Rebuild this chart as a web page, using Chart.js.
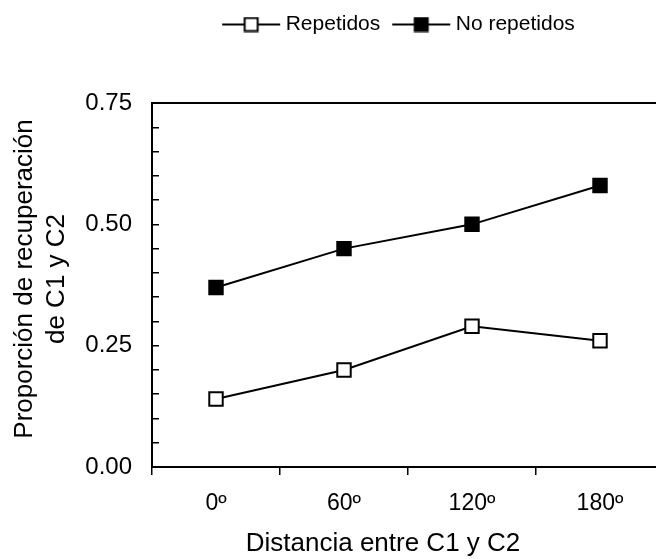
<!DOCTYPE html>
<html lang="es">
<head>
<meta charset="UTF-8">
<title>Proporción de recuperación de C1 y C2</title>
<script src="https://cdn.jsdelivr.net/npm/chart.js@4.4.0/dist/chart.umd.min.js"></script>
<style>
    html, body { margin: 0; padding: 0; background: #fff; overflow: hidden; }
    #wrap { width: 680px; height: 559px; }
</style>
</head>
<body>
<div id="wrap"><canvas id="chart" width="680" height="559"></canvas></div>
<script>
// data
const categories = ['0º', '60º', '120º', '180º'];
const repetidos = [0.14, 0.20, 0.29, 0.26];
const noRepetidos = [0.37, 0.45, 0.50, 0.58];
const yTicks = [0, 0.25, 0.50, 0.75];

const FONT = 'Arial, "Liberation Sans", sans-serif';

// legend symbol: line with a square in the middle (transparent strip on the left for spacing)
function legendSymbol(fill) {
    const c = document.createElement('canvas');
    c.width = 70; c.height = 16;
    const g = c.getContext('2d');
    g.strokeStyle = '#000';
    g.lineWidth = 2;
    g.beginPath(); g.moveTo(11, 8); g.lineTo(69, 8); g.stroke();
    g.fillStyle = fill;
    g.fillRect(33.5, 1.5, 13, 13);
    g.strokeRect(33.5, 1.5, 13, 13);
    return c;
}
const symbols = [legendSymbol('#fff'), legendSymbol('#000')];

function isMajor(v) {
    return yTicks.some(t => Math.abs(t - v) < 1e-6);
}

// shift where a scale draws its title (the figure's titles aren't centred on the axes)
function nudgeTitle(scale, dLeft, dTop) {
    if (scale._nudged) return;
    scale._nudged = true;
    const draw = scale.drawTitle;
    scale.drawTitle = function () {
        const l = this.left, t = this.top;
        this.left += dLeft;
        this.top += dTop;
        draw.call(this);
        this.left = l;
        this.top = t;
    };
}

const layoutFix = {
    id: 'layoutFix',
    afterLayout(chart) {
        // legend position
        const lg = chart.legend;
        const d = 396 - (lg.left + lg.right) / 2;
        lg.left += d;
        lg.right += d;
        nudgeTitle(chart.scales.x, -50, 0);
        nudgeTitle(chart.scales.y, 0, -12);
    }
};

new Chart(document.getElementById('chart'), {
    type: 'line',
    data: {
        labels: categories,
        datasets: [
            {
                label: 'Repetidos',
                data: repetidos,
                borderColor: '#000',
                borderWidth: 2,
                pointStyle: 'rect',
                pointRadius: 9.5,
                pointBackgroundColor: '#fff',
                pointBorderColor: '#000',
                pointBorderWidth: 2
            },
            {
                label: 'No repetidos',
                data: noRepetidos,
                borderColor: '#000',
                borderWidth: 2,
                pointStyle: 'rect',
                pointRadius: 9.5,
                pointBackgroundColor: '#000',
                pointBorderColor: '#000',
                pointBorderWidth: 2
            }
        ]
    },
    options: {
        responsive: false,
        animation: false,
        events: [],
        layout: { padding: { top: 7, right: 16, bottom: 0, left: 0 } },
        plugins: {
            tooltip: { enabled: false },
            legend: {
                position: 'top',
                labels: {
                    usePointStyle: true,
                    pointStyleWidth: 58,
                    boxHeight: 21,
                    padding: 7,
                    color: '#000',
                    font: { family: FONT, size: 21 },
                    generateLabels(chart) {
                        const items = Chart.defaults.plugins.legend.labels.generateLabels(chart);
                        items.forEach((it, i) => { it.pointStyle = symbols[i]; });
                        return items;
                    }
                }
            }
        },
        scales: {
            x: {
                offset: true,
                grid: { offset: true, drawOnChartArea: false, tickLength: 8, color: '#000', lineWidth: 1.5 },
                border: { color: '#000', width: 2 },
                ticks: { color: '#000', font: { family: FONT, size: 23 }, padding: 15, maxRotation: 0 },
                title: {
                    display: true,
                    text: 'Distancia entre C1 y C2',
                    color: '#000',
                    font: { family: FONT, size: 26 },
                    padding: { top: 0, bottom: 0 }
                },
                afterFit(s) { s.height = 92; }
            },
            x2: {
                type: 'category',
                position: 'top',
                offset: true,
                grid: { display: false },
                ticks: { display: false },
                border: { display: true, color: '#000', width: 2 },
                afterFit(s) { s.height = 58; }
            },
            y: {
                min: yTicks[0],
                max: yTicks[yTicks.length - 1],
                grid: { drawOnChartArea: false, tickLength: -7, color: '#000', lineWidth: 1.5 },
                border: { color: '#000', width: 2 },
                ticks: {
                    stepSize: 0.05,
                    autoSkip: false,
                    padding: 27,
                    color: '#000',
                    font: { family: FONT, size: 24 },
                    callback: v => isMajor(v) ? v.toFixed(2) : ''
                },
                title: {
                    display: true,
                    text: ['Proporción de recuperación', 'de C1 y C2'],
                    color: '#000',
                    font: { family: FONT, size: 26, lineHeight: 1.22 },
                    padding: { top: 9, bottom: 0 }
                },
                afterFit(s) { s.width = 152; }
            }
        }
    },
    plugins: [layoutFix]
});
</script>
</body>
</html>
